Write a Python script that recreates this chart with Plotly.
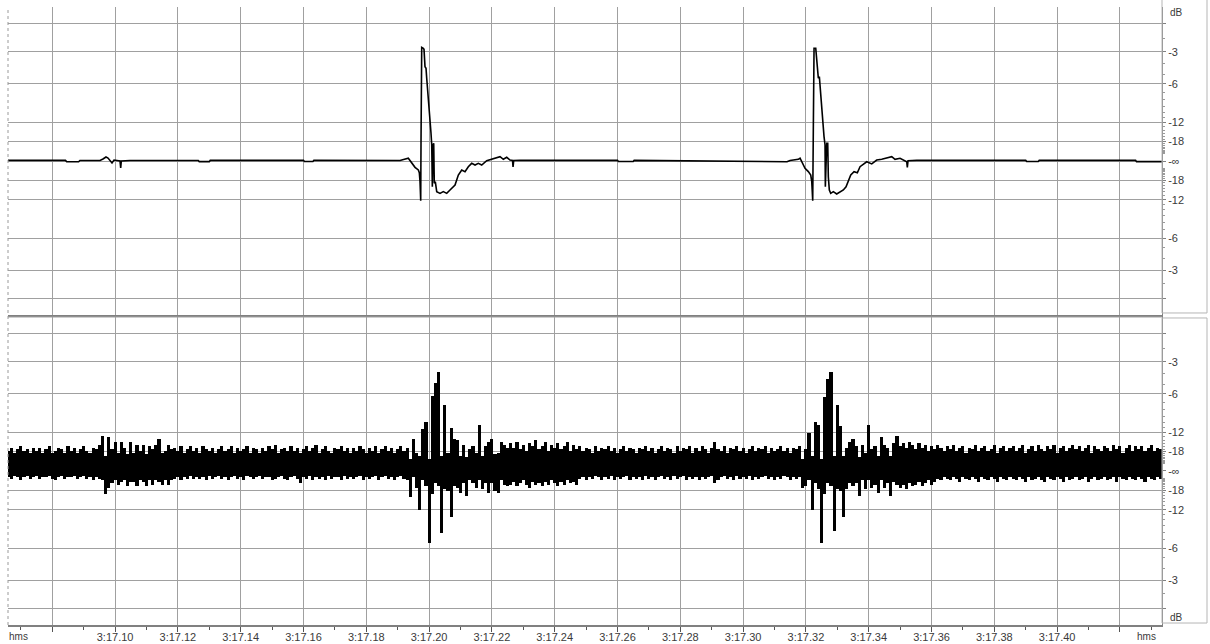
import numpy as np
import plotly.graph_objects as go

# ---------------- time axis (seconds after 3:17) ----------------
view_start = 0.0659
view_end = 0.4334
grid_times = [0.08, 0.10, 0.12, 0.14, 0.16, 0.18, 0.20, 0.22, 0.24,
              0.26, 0.28, 0.30, 0.32, 0.34, 0.36, 0.38, 0.40, 0.42]
grid_labels = ["", "3:17.10", "3:17.12", "3:17.14", "3:17.16", "3:17.18",
               "3:17.20", "3:17.22", "3:17.24", "3:17.26", "3:17.28",
               "3:17.30", "3:17.32", "3:17.34", "3:17.36", "3:17.38",
               "3:17.40", ""]

# ---------------- dB ruler (linear amplitude positions) ----------------
db_amp = [0.891, 0.708, 0.501, 0.251, 0.126, 0.0,
          -0.126, -0.251, -0.501, -0.708, -0.891]
db_text = ["", "-3", "-6", "-12", "-18", "-\u221e",
           "-18", "-12", "-6", "-3", ""]
db_minor = [0.794, 0.631, 0.562, 0.447, 0.398, 0.355, 0.316, 0.282,
            0.224, 0.200, 0.178, 0.158, 0.141, 0.112, 0.100, 0.089,
            0.079, 0.071, 0.063, 0.056, 0.050]

# ---------------- upper track: envelope line ----------------
env_t = [
    0.06590, 0.08000, 0.08420, 0.08460, 0.08840, 0.08880, 0.09520,
    0.09615, 0.09711, 0.09775, 0.09838, 0.09902, 0.09966, 0.10050,
    0.10157, 0.10179, 0.10198, 0.10475, 0.12650, 0.12680, 0.13000,
    0.13030, 0.16000, 0.16030, 0.16300, 0.16330, 0.19074,
    0.19338, 0.19393, 0.19447, 0.19552, 0.19657, 0.19689, 0.19711,
    0.19733, 0.19743, 0.19765, 0.19816, 0.19838, 0.19870, 0.19902,
    0.19924, 0.19975, 0.20029, 0.20061, 0.20084, 0.20103, 0.20125,
    0.20147, 0.20166, 0.20198, 0.20243, 0.20348, 0.20453, 0.20561,
    0.20666, 0.20826, 0.20931, 0.21039, 0.21144, 0.21249, 0.21357,
    0.21463, 0.21568, 0.21676, 0.21835, 0.21995, 0.22154, 0.22259,
    0.22364, 0.22472, 0.22577, 0.22657, 0.22673, 0.22695, 0.22896,
    0.26000, 0.26030, 0.26500, 0.26530,
    0.30953, 0.31399, 0.31494, 0.31759, 0.31813, 0.31899, 0.31972,
    0.32077, 0.32154, 0.32186, 0.32217, 0.32236, 0.32259, 0.32313,
    0.32345, 0.32377, 0.32396, 0.32428, 0.32472, 0.32523, 0.32577,
    0.32609, 0.32619, 0.32663, 0.32695, 0.32714, 0.32746, 0.32790,
    0.32873, 0.32981, 0.33087, 0.33192, 0.33278, 0.33351, 0.33428,
    0.33533, 0.33638, 0.33724, 0.33851, 0.33937, 0.34096, 0.34255,
    0.34415, 0.34574, 0.34733, 0.34838, 0.34998, 0.35211, 0.35230,
    0.35252, 0.35530,
    0.39000, 0.39030, 0.39400, 0.39430, 0.42500, 0.42530, 0.43340,
]
env_amp = [
    0.004, 0.004, 0.004, -0.005, -0.005, 0.003, 0.003,
    0.013, 0.026, 0.019, 0.000, -0.013, 0.006, 0.003,
    0.000, -0.045, 0.000, 0.003, 0.003, -0.004, -0.004,
    0.004, 0.004, -0.003, -0.003, 0.004, 0.003,
    0.018, 0.002, -0.015, -0.041, -0.058, -0.076, -0.134,
    -0.258, 0.125, 0.738, 0.732, 0.725, 0.612, 0.602,
    0.537, 0.418, 0.277, 0.180, 0.104, -0.167, 0.104,
    0.115, -0.145, -0.134, -0.199, -0.210, -0.199, -0.210,
    -0.188, -0.156, -0.091, -0.058, -0.069, -0.037, -0.015,
    -0.026, -0.015, -0.026, 0.002, 0.011, 0.018, 0.028,
    0.011, 0.024, 0.006, 0.003, -0.039, 0.003, 0.004,
    0.004, -0.003, -0.003, 0.004,
    -0.005, -0.005, 0.003, 0.011, 0.018, -0.015, -0.047,
    -0.069, -0.091, -0.134, -0.258, 0.201, 0.732, 0.732,
    0.656, 0.612, 0.537, 0.548, 0.418, 0.277, 0.158,
    0.104, -0.167, 0.115, 0.115, -0.102, -0.188, -0.210,
    -0.199, -0.214, -0.199, -0.188, -0.167, -0.123, -0.091,
    -0.069, -0.076, -0.037, -0.015, -0.005, -0.019, 0.006,
    0.011, 0.018, 0.028, 0.011, 0.018, -0.005, -0.041,
    0.002, 0.004,
    0.004, -0.003, -0.003, 0.004, 0.004, -0.004, -0.004,
]

# ---------------- lower track: per-column peak values (% of full scale) ----------------
peak_t0 = 0.066
peak_dt = 0.001
peak_hi = [
    13, 15, 12, 14, 16, 13, 14, 12, 15, 13,
    15, 12, 14, 16, 12, 13, 15, 14, 12, 16,
    13, 15, 12, 14, 16, 13, 12, 15, 14, 17,
    23, 10, 22, 14, 19, 12, 19, 15, 11, 19,
    12, 17, 13, 17, 11, 16, 14, 17, 21, 12,
    13, 17, 14, 15, 13, 16, 12, 14, 16, 13,
    15, 12, 16, 14, 13, 15, 12, 14, 16, 13,
    14, 16, 12, 15, 13, 14, 16, 12, 15, 14,
    12, 15, 13, 16, 14, 17, 12, 14, 15, 13,
    16, 13, 15, 12, 14, 16, 13, 15, 17, 12,
    14, 16, 13, 12, 15, 14, 16, 13, 15, 12,
    15, 13, 16, 14, 12, 15, 13, 16, 12, 14,
    16, 13, 15, 12, 14, 16, 13, 15, 8, 21,
    12, 10, 27, 32, 8, 49, 57, 64, 10, 43,
    12, 28, 21, 20, 10, 17, 9, 14, 16, 12,
    30, 10, 16, 19, 21, 11, 12, 19, 17, 15,
    18, 15, 19, 14, 17, 13, 18, 16, 20, 14,
    16, 19, 13, 17, 15, 18, 14, 16, 19, 13,
    17, 14, 16, 13, 15, 14, 12, 16, 13, 15,
    14, 16, 13, 15, 12, 14, 16, 13, 15, 14,
    12, 15, 14, 16, 13, 15, 12, 14, 16, 13,
    15, 14, 12, 16, 13, 15, 14, 16, 12, 15,
    13, 16, 14, 12, 15, 19, 14, 13, 16, 12,
    15, 14, 16, 13, 15, 12, 14, 16, 13, 15,
    14, 16, 12, 15, 13, 14, 16, 13, 15, 12,
    15, 14, 16, 8, 14, 25, 10, 32, 30, 8,
    48, 60, 64, 10, 43, 29, 10, 15, 19, 21,
    16, 9, 17, 12, 30, 14, 16, 10, 22, 17,
    15, 10, 18, 23, 16, 18, 15, 19, 17, 14,
    18, 15, 17, 13, 16, 14, 17, 15, 13, 16,
    14, 17, 13, 15, 16, 12, 15, 14, 17, 13,
    15, 16, 13, 14, 17, 12, 15, 16, 13, 15,
    16, 13, 15, 17, 12, 14, 16, 13, 17, 14,
    13, 16, 14, 17, 12, 15, 16, 13, 15, 17,
    14, 16, 13, 15, 17, 12, 16, 14, 13, 16,
    15, 13, 17, 14, 16, 12, 15, 17, 13, 16,
    14, 16, 13, 15, 17, 13, 15, 14,
]
peak_lo = [
    -4, -5, -3, -4, -6, -4, -3, -5, -4, -3,
    -5, -4, -4, -3, -5, -6, -4, -3, -5, -4,
    -4, -3, -5, -4, -3, -5, -4, -6, -4, -5,
    -6, -15, -11, -8, -6, -9, -7, -6, -10, -7,
    -7, -10, -6, -7, -10, -6, -9, -6, -7, -9,
    -6, -9, -6, -5, -4, -6, -4, -5, -3, -5,
    -4, -5, -4, -6, -3, -5, -4, -3, -5, -4,
    -6, -4, -3, -5, -4, -6, -3, -4, -5, -4,
    -3, -5, -4, -4, -6, -5, -4, -3, -5, -6,
    -4, -3, -5, -8, -4, -5, -3, -6, -4, -5,
    -4, -6, -3, -5, -4, -4, -6, -3, -5, -4,
    -5, -4, -3, -6, -4, -5, -4, -3, -6, -4,
    -3, -5, -4, -6, -4, -3, -5, -6, -17, -4,
    -11, -25, -6, -10, -47, -15, -8, -10, -40, -12,
    -13, -30, -10, -11, -14, -8, -16, -6, -8, -11,
    -6, -12, -8, -14, -8, -13, -14, -6, -9, -10,
    -9, -7, -10, -8, -6, -9, -11, -7, -9, -8,
    -10, -7, -9, -6, -8, -10, -7, -9, -6, -8,
    -7, -9, -5, -4, -6, -4, -5, -3, -4, -6,
    -4, -5, -3, -6, -4, -5, -4, -3, -6, -4,
    -5, -4, -6, -3, -5, -4, -6, -4, -3, -5,
    -4, -6, -3, -5, -4, -3, -6, -4, -5, -4,
    -6, -4, -5, -4, -3, -8, -6, -4, -3, -5,
    -4, -6, -3, -5, -4, -5, -3, -6, -4, -5,
    -4, -3, -5, -4, -6, -4, -5, -3, -4, -6,
    -4, -5, -4, -11, -10, -6, -25, -8, -12, -47,
    -15, -8, -10, -39, -12, -13, -30, -12, -8, -10,
    -8, -16, -6, -12, -6, -11, -9, -14, -6, -11,
    -8, -16, -7, -9, -11, -9, -12, -8, -10, -9,
    -7, -10, -8, -6, -9, -7, -5, -6, -4, -5,
    -6, -4, -5, -7, -4, -5, -6, -4, -5, -7,
    -4, -5, -6, -4, -5, -7, -4, -5, -6, -4,
    -5, -6, -4, -5, -7, -4, -6, -5, -4, -6,
    -7, -4, -5, -6, -4, -5, -7, -4, -6, -5,
    -4, -6, -5, -4, -7, -5, -4, -6, -5, -4,
    -6, -5, -4, -7, -4, -5, -6, -4, -5, -6,
    -4, -5, -7, -4, -5, -6, -4, -5,
]

# ---------------- styling ----------------
GRID = "#a0a0a0"
AXIS = "#808080"
TEXT = "#3a3a3a"
FONT = "Liberation Sans, Arial, sans-serif"

hi = np.array(peak_hi) / 100.0
lo = np.array(peak_lo) / 100.0
peak_t = peak_t0 + peak_dt * np.arange(len(hi))

fig = go.Figure()

# upper track
fig.add_trace(go.Scatter(
    x=env_t, y=env_amp, mode="lines",
    line=dict(color="black", width=1.6),
    xaxis="x2", yaxis="y2", hoverinfo="skip",
))

# lower track: min/max column bars
fig.add_trace(go.Bar(
    x=peak_t, y=hi - lo, base=lo, width=peak_dt,
    marker=dict(color="black", line=dict(width=0)),
    xaxis="x", yaxis="y", hoverinfo="skip",
))

TOP_DOM = [0.5016, 1.0]
BOT_DOM = [0.0, 0.4984]

yaxis_common = dict(
    range=[-1, 1], side="right", tickmode="array",
    tickvals=db_amp, ticktext=db_text,
    ticks="outside", ticklen=3, tickcolor=AXIS, tickwidth=1,
    showgrid=True, gridcolor=GRID, gridwidth=1.3,
    zeroline=False, showline=True, linecolor=AXIS, linewidth=1,
    tickfont=dict(family=FONT, size=11, color=TEXT),
    minor=dict(tickmode="array",
               tickvals=db_minor + [-v for v in db_minor],
               ticks="outside", ticklen=2, tickcolor="#9a9a9a",
               showgrid=False),
    automargin=False, fixedrange=True,
)

fig.update_layout(
    width=1210, height=644,
    margin=dict(l=8, r=48, t=7, b=19, pad=0, autoexpand=False),
    paper_bgcolor="white", plot_bgcolor="white",
    showlegend=False, bargap=0,
    xaxis=dict(
        domain=[0, 1], anchor="y", range=[view_start, view_end],
        tickmode="array", tickvals=grid_times, ticktext=grid_labels,
        ticks="outside", ticklen=5, tickcolor="#555555", tickwidth=1,
        ticklabelstandoff=-4,
        showgrid=True, gridcolor=GRID, gridwidth=1.3,
        zeroline=False, showline=True, linecolor=AXIS, linewidth=1.5,
        tickfont=dict(family=FONT, size=11, color=TEXT),
        minor=dict(tick0=0.0, dtick=0.01, ticks="outside", ticklen=3,
                   tickcolor="#555555", showgrid=False),
        automargin=False,
    ),
    xaxis2=dict(
        domain=[0, 1], anchor="y2", matches="x", range=[view_start, view_end],
        tickmode="array", tickvals=grid_times,
        showticklabels=False, ticks="",
        showgrid=True, gridcolor=GRID, gridwidth=1.3,
        zeroline=False, showline=True, linecolor=AXIS, linewidth=1.5,
        automargin=False,
    ),
    yaxis=dict(domain=BOT_DOM, anchor="x", **yaxis_common),
    yaxis2=dict(domain=TOP_DOM, anchor="x2", **yaxis_common),
)

# frame lines
shapes = [
    # top edge of the lower track
    dict(type="line", xref="paper", yref="paper", x0=0, x1=1,
         y0=BOT_DOM[1], y1=BOT_DOM[1], line=dict(color=GRID, width=1.2)),
    # dotted left edge
    dict(type="line", xref="paper", yref="paper", x0=0, x1=0,
         y0=0, y1=1, line=dict(color="#9a9a9a", width=1, dash="dot")),
    # ruler boxes on the right
    dict(type="rect", xref="paper", yref="paper", x0=1.0, x1=1.039,
         y0=0.5049, y1=1.02, line=dict(color="#b5b5b5", width=1)),
    dict(type="rect", xref="paper", yref="paper", x0=1.0, x1=1.039,
         y0=0.0032, y1=0.4968, line=dict(color="#b5b5b5", width=1)),
]
fig.update_layout(shapes=shapes)

annots = [
    dict(text="dB", x=1.0052, y=0.9903, xanchor="left", yanchor="middle"),
    dict(text="dB", x=1.0052, y=0.0129, xanchor="left", yanchor="middle"),
    dict(text="hms", x=-0.0009, y=-0.0185, xanchor="left", yanchor="middle"),
    dict(text="hms", x=0.9965, y=-0.0185, xanchor="right", yanchor="middle"),
]
for a in annots:
    fig.add_annotation(xref="paper", yref="paper", showarrow=False,
                       font=dict(family=FONT, size=10, color=TEXT), **a)

fig.write_html("out.html")
